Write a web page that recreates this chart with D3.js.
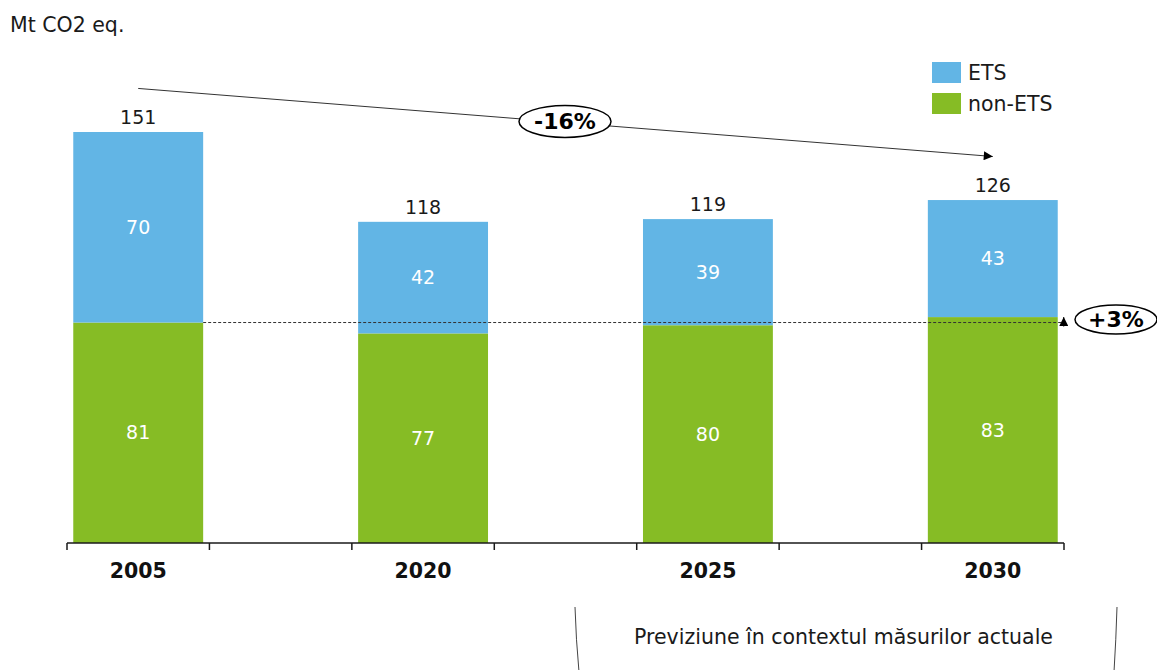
<!DOCTYPE html>
<html>
<head>
<meta charset="utf-8">
<script src="https://cdn.jsdelivr.net/npm/d3@7"></script>
<style>
  body { margin: 0; background: #fff; }
  svg { display: block; font-family: "DejaVu Sans", Verdana, sans-serif; }
</style>
</head>
<body>
<script>
const years = ['2005', '2020', '2025', '2030'];
const slots = ['2005', 'g1', '2020', 'g2', '2025', 'g3', '2030'];
const nonEts = [81, 77, 80, 83];
const ets = [70, 42, 39, 43];
const totals = [151, 118, 119, 126];
const legendLabels = ['ETS', 'non-ETS'];

const colors = { ets: '#62b5e5', nonEts: '#86bc25' };
const width = 1157, height = 670;

const svg = d3.select('body').append('svg')
  .attr('width', width)
  .attr('height', height);

// scales
const x = d3.scaleBand().domain(slots).range([67, 1064]);
const y = d3.scaleLinear().domain([0, 151]).range([543, 132]);
const barW = x.bandwidth() * 0.912;
const cx = yr => x(yr) + x.bandwidth() / 2;

// unit label
svg.append('text')
  .attr('x', 10).attr('y', 32)
  .style('font-size', '20.5px').style('fill', '#1a1a1a')
  .text('Mt CO2 eq.');

// bars
years.forEach((yr, i) => {
  const left = cx(yr) - barW / 2;
  svg.append('rect')
    .attr('x', left).attr('y', y(nonEts[i]))
    .attr('width', barW).attr('height', y(0) - y(nonEts[i]))
    .style('fill', colors.nonEts);
  svg.append('rect')
    .attr('x', left).attr('y', y(totals[i]))
    .attr('width', barW).attr('height', y(nonEts[i]) - y(totals[i]))
    .style('fill', colors.ets);

  svg.append('text')
    .attr('x', cx(yr)).attr('y', (y(nonEts[i]) + y(0)) / 2)
    .attr('text-anchor', 'middle').attr('dy', '0.35em')
    .style('font-size', '19px').style('fill', '#fff')
    .text(nonEts[i]);
  svg.append('text')
    .attr('x', cx(yr)).attr('y', (y(totals[i]) + y(nonEts[i])) / 2)
    .attr('text-anchor', 'middle').attr('dy', '0.35em')
    .style('font-size', '19px').style('fill', '#fff')
    .text(ets[i]);
  svg.append('text')
    .attr('x', cx(yr)).attr('y', y(totals[i]) - 8)
    .attr('text-anchor', 'middle')
    .style('font-size', '19px').style('fill', '#1a1a1a')
    .text(totals[i]);
});

// x axis with ticks on slot boundaries
const axisY = y(0);
svg.append('line')
  .attr('x1', x.range()[0]).attr('x2', x.range()[1])
  .attr('y1', axisY).attr('y2', axisY)
  .style('stroke', '#1a1a1a').style('stroke-width', 1.5);
slots.concat(['end']).forEach((s, i) => {
  const tx = i < slots.length ? x(s) : x.range()[1];
  svg.append('line')
    .attr('x1', tx).attr('x2', tx)
    .attr('y1', axisY).attr('y2', axisY + 7)
    .style('stroke', '#1a1a1a').style('stroke-width', 1.5);
});
years.forEach(yr => {
  svg.append('text')
    .attr('x', cx(yr)).attr('y', 578)
    .attr('text-anchor', 'middle')
    .style('font-size', '20.5px').style('font-weight', 'bold').style('fill', '#111')
    .text(yr);
});

// legend
legendLabels.forEach((lab, i) => {
  const ly = 62 + i * 31;
  svg.append('rect')
    .attr('x', 932).attr('y', ly).attr('width', 29).attr('height', 21)
    .style('fill', i === 0 ? colors.ets : colors.nonEts);
  svg.append('text')
    .attr('x', 968).attr('y', ly + 11).attr('dy', '0.35em')
    .style('font-size', '20.5px').style('fill', '#1a1a1a')
    .text(lab);
});

// arrow marker
const defs = svg.append('defs');
defs.append('marker')
  .attr('id', 'arr').attr('viewBox', '0 0 10 10')
  .attr('refX', 10).attr('refY', 5)
  .attr('markerWidth', 12).attr('markerHeight', 9)
  .attr('markerUnits', 'userSpaceOnUse')
  .attr('orient', 'auto')
  .append('path').attr('d', 'M0,0L10,5L0,10Z').style('fill', '#000');

// -16% trend line
const x0 = cx('2005'), x1 = cx('2030');
const y0 = y(totals[0] + 16), y1 = y(totals[3] + 16);
svg.append('line')
  .attr('x1', x0).attr('y1', y0).attr('x2', x1).attr('y2', y1)
  .style('stroke', '#333').style('stroke-width', 1)
  .attr('marker-end', 'url(#arr)');
const ex = 565, ey = y0 + (y1 - y0) * (ex - x0) / (x1 - x0) - 1;
svg.append('ellipse')
  .attr('cx', ex).attr('cy', ey).attr('rx', 46).attr('ry', 16)
  .style('fill', '#fff').style('stroke', '#000').style('stroke-width', 1.5);
svg.append('text')
  .attr('x', ex).attr('y', ey).attr('dy', '0.36em')
  .attr('text-anchor', 'middle')
  .style('font-size', '22px').style('font-weight', 'bold')
  .text('-16%');

// +3% dashed reference
const refY = y(nonEts[0]);
const rightEdge = cx('2030') + barW / 2;
svg.append('line')
  .attr('x1', cx('2005') + barW / 2).attr('x2', rightEdge + 6)
  .attr('y1', refY).attr('y2', refY)
  .style('stroke', '#333').style('stroke-width', 1)
  .style('stroke-dasharray', '3,2');
svg.append('line')
  .attr('x1', rightEdge + 6).attr('x2', rightEdge + 6)
  .attr('y1', refY + 4).attr('y2', y(nonEts[3]))
  .style('stroke', '#000').style('stroke-width', 1)
  .attr('marker-end', 'url(#arr)');
svg.append('ellipse')
  .attr('cx', 1116).attr('cy', refY - 3).attr('rx', 41).attr('ry', 14.5)
  .style('fill', '#fff').style('stroke', '#000').style('stroke-width', 1.5);
svg.append('text')
  .attr('x', 1116).attr('y', refY - 3).attr('dy', '0.36em')
  .attr('text-anchor', 'middle')
  .style('font-size', '22px').style('font-weight', 'bold')
  .text('+3%');

// forecast bracket
svg.append('path')
  .attr('d', 'M575,607 Q576,640 579,672')
  .style('fill', 'none').style('stroke', '#444').style('stroke-width', 1);
svg.append('path')
  .attr('d', 'M1117,607 Q1116,640 1114,672')
  .style('fill', 'none').style('stroke', '#444').style('stroke-width', 1);
svg.append('text')
  .attr('x', 843.5).attr('y', 644)
  .attr('text-anchor', 'middle')
  .style('font-size', '20.5px').style('fill', '#1a1a1a')
  .text('Previziune în contextul măsurilor actuale');
</script>
</body>
</html>
